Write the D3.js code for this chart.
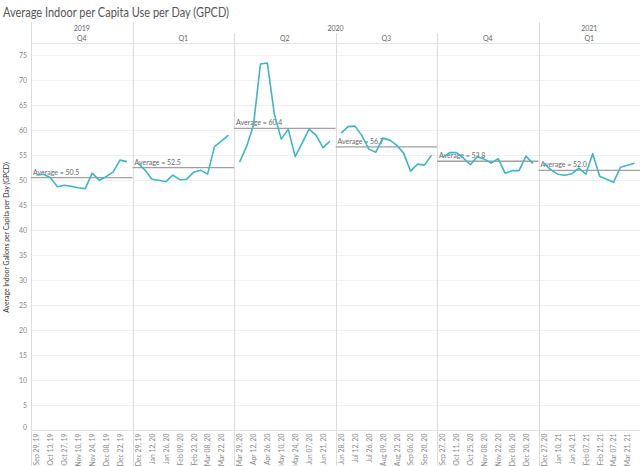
<!DOCTYPE html>
<html>
<head>
<meta charset="utf-8">
<script src="https://cdn.jsdelivr.net/npm/d3@7"></script>
<style>
  body { margin: 0; background: #fff; }
  text { font-family: Lato, "Open Sans", sans-serif; }
</style>
</head>
<body>
<div id="chart"></div>
<script>
// panes: year / quarter, first week shown in each pane
const years = ["2019", "2020", "2020", "2020", "2020", "2021"];
const quarters = ["Q4", "Q1", "Q2", "Q3", "Q4", "Q1"];
const firstWeeks = ["2019-09-29", "2019-12-29", "2020-03-29", "2020-06-28", "2020-09-27", "2020-12-27"];

// weekly GPCD
const gpcd2019Q4 = [51.0, 51.2, 50.5, 48.7, 49.0, 48.8, 48.5, 48.3, 51.4, 50.0, 50.7, 51.6, 54.0, 53.7];
const gpcd2020Q1 = [53.4, 52.0, 50.2, 50.0, 49.7, 51.0, 50.1, 50.2, 51.6, 52.0, 51.2, 56.7, 57.8, 59.0];
const gpcd2020Q2 = [53.6, 56.7, 61.0, 73.2, 73.4, 63.2, 58.2, 60.2, 54.7, 57.4, 60.2, 59.0, 56.5, 57.8];
const gpcd2020Q3 = [59.4, 60.7, 60.8, 58.9, 56.2, 55.6, 58.4, 58.0, 57.0, 55.4, 51.8, 53.2, 53.0, 55.0];
const gpcd2020Q4 = [54.5, 55.5, 55.5, 54.4, 53.1, 54.7, 54.2, 53.4, 54.3, 51.4, 51.9, 51.9, 54.8, 53.3];
const gpcd2021Q1 = [53.4, 52.0, 51.2, 51.0, 51.3, 52.4, 51.2, 55.3, 50.8, 50.2, 49.6, 52.6, 53.0, 53.4];
const series = [gpcd2019Q4, gpcd2020Q1, gpcd2020Q2, gpcd2020Q3, gpcd2020Q4, gpcd2021Q1];

const yTicks = [0, 5, 10, 15, 20, 25, 30, 35, 40, 45, 50, 55, 60, 65, 70, 75];

const width = 640;
const height = 466;
const plotLeft = 31, plotRight = 640, plotTop = 43, plotBottom = 430.5;

const parseDate = d3.timeParse("%Y-%m-%d");
const fmtWeek = d3.timeFormat("%b %d, %y");

const panes = quarters.map((q, i) => ({
  id: i,
  year: years[i],
  quarter: q,
  first: parseDate(firstWeeks[i]),
  values: series[i],
}));

const svg = d3
  .select("#chart")
  .append("svg")
  .attr("width", width)
  .attr("height", height);

const paneScale = d3
  .scaleBand()
  .domain(panes.map((d) => d.id))
  .range([plotLeft, plotRight]);

const y = d3.scaleLinear().domain([0, 77.4]).range([plotBottom, plotTop]);

// title
svg
  .append("text")
  .attr("x", 3)
  .attr("y", 17)
  .attr("font-size", 12.5)
  .attr("fill", "#555")
  .attr("textLength", 226)
  .attr("lengthAdjust", "spacingAndGlyphs")
  .text("Average Indoor per Capita Use per Day (GPCD)");

// grid lines
svg
  .append("g")
  .selectAll("line")
  .data(yTicks.filter((d) => d > 0))
  .join("line")
  .attr("x1", plotLeft)
  .attr("x2", plotRight)
  .attr("y1", (d) => Math.round(y(d)) + 0.5)
  .attr("y2", (d) => Math.round(y(d)) + 0.5)
  .attr("stroke", "#f0f0f0");

// y axis
const yAxis = svg
  .append("g")
  .attr("transform", `translate(${plotLeft},0)`)
  .call(d3.axisLeft(y).tickValues(yTicks).tickSize(0).tickPadding(4));
yAxis.select(".domain").remove();
yAxis
  .selectAll("text")
  .attr("font-family", "Lato, sans-serif")
  .attr("font-size", 7)
  .attr("fill", "#888")
  .attr("dy", (d) => (d === 0 ? "-0.2em" : "0.32em"));

svg
  .append("text")
  .attr("transform", `translate(9,${(165 + 310) / 2}) rotate(-90)`)
  .attr("text-anchor", "middle")
  .attr("font-size", 6.8)
  .attr("fill", "#333")
  .text("Average Indoor Gallons per Capita per Day (GPCD)");

// header: years
const yearGroups = d3.groups(panes, (d) => d.year);
svg
  .append("g")
  .selectAll("text")
  .data(yearGroups)
  .join("text")
  .attr("x", ([, ps]) => (paneScale(ps[0].id) + paneScale(ps[ps.length - 1].id) + paneScale.bandwidth()) / 2)
  .attr("y", 31)
  .attr("text-anchor", "middle")
  .attr("font-size", 7)
  .attr("fill", "#666")
  .text(([yr]) => yr);

// header: quarters
svg
  .append("g")
  .selectAll("text")
  .data(panes)
  .join("text")
  .attr("x", (d) => paneScale(d.id) + paneScale.bandwidth() / 2)
  .attr("y", 41)
  .attr("text-anchor", "middle")
  .attr("font-size", 7)
  .attr("fill", "#666")
  .text((d) => d.quarter);

// frame lines
svg
  .append("line")
  .attr("x1", plotLeft)
  .attr("x2", plotRight)
  .attr("y1", 43.5)
  .attr("y2", 43.5)
  .attr("stroke", "#e2e2e2");

svg
  .append("line")
  .attr("x1", plotLeft)
  .attr("x2", plotRight)
  .attr("y1", 430.5)
  .attr("y2", 430.5)
  .attr("stroke", "#e2e2e2");

svg
  .append("g")
  .selectAll("line")
  .data(panes)
  .join("line")
  .attr("x1", (d) => Math.round(paneScale(d.id)) + 0.5)
  .attr("x2", (d) => Math.round(paneScale(d.id)) + 0.5)
  .attr("y1", (d, i) => (i === 0 || panes[i - 1].year !== d.year ? 22 : 33))
  .attr("y2", height)
  .attr("stroke", "#dcdcdc");

// panes
panes.forEach((p) => {
  const x0 = paneScale(p.id);
  const x = d3
    .scalePoint()
    .domain(d3.range(p.values.length))
    .range([x0, x0 + paneScale.bandwidth()])
    .padding(0.8);

  const g = svg.append("g").attr("class", "pane");

  // x axis
  const xAxis = g
    .append("g")
    .attr("transform", `translate(0,${plotBottom})`)
    .call(
      d3
        .axisBottom(x)
        .tickValues(x.domain().filter((i) => i % 2 === 0 && i < p.values.length - 1))
        .tickFormat((i) => fmtWeek(d3.timeWeek.offset(p.first, i)))
        .tickSize(0)
    );
  xAxis.select(".domain").remove();
  xAxis
    .selectAll("text")
    .attr("font-family", "Lato, sans-serif")
    .attr("font-size", 6.8)
    .attr("fill", "#888")
    .attr("text-anchor", "end")
    .attr("transform", "rotate(-90)")
    .attr("x", -3)
    .attr("y", 0)
    .attr("dy", "0.35em");

  // average reference line
  const avg = d3.mean(p.values);
  g.append("line")
    .attr("x1", x0)
    .attr("x2", x0 + paneScale.bandwidth())
    .attr("y1", y(avg))
    .attr("y2", y(avg))
    .attr("stroke", "#a0a0a0")
    .attr("stroke-width", 1.3);

  g.append("text")
    .attr("x", x0 + 2)
    .attr("y", y(avg) - 3)
    .attr("font-size", 7)
    .attr("fill", "#666")
    .text(`Average = ${d3.format(".1f")(avg)}`);

  // weekly line
  const line = d3
    .line()
    .x((d, i) => x(i))
    .y((d) => y(d));

  g.append("path")
    .datum(p.values)
    .attr("fill", "none")
    .attr("stroke", "#3fb5c7")
    .attr("stroke-width", 1.6)
    .attr("stroke-linejoin", "round")
    .attr("d", line);
});
</script>
</body>
</html>
